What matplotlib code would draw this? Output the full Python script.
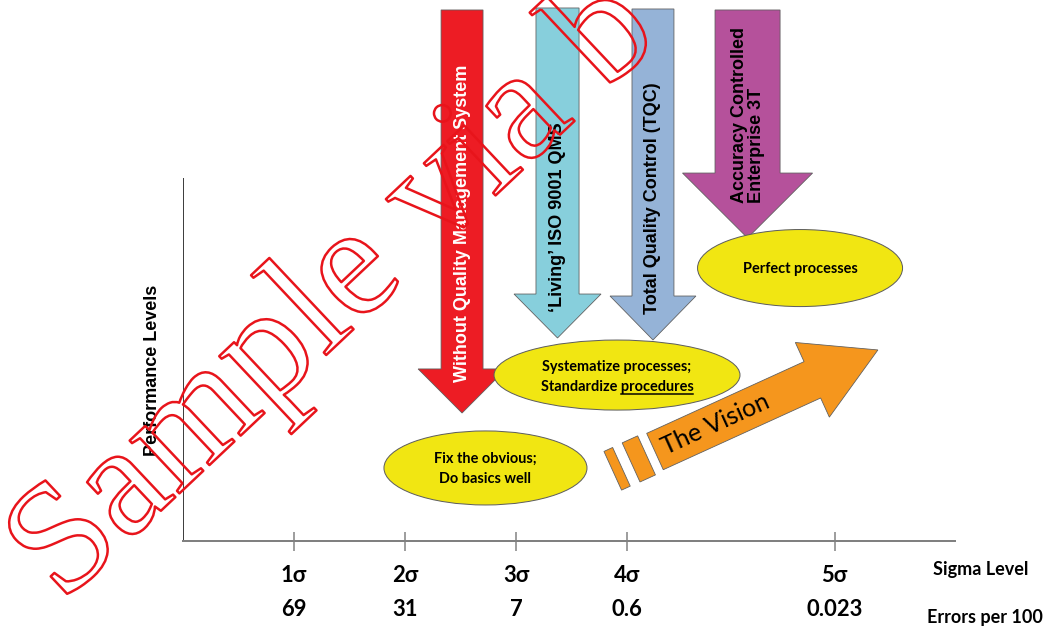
import numpy as np
import matplotlib
matplotlib.use("Agg")
import matplotlib.pyplot as plt
import matplotlib.patheffects as pe
from matplotlib.patches import Polygon, Ellipse

# --- chart content -------------------------------------------------------
sigma_labels = ["1σ", "2σ", "3σ", "4σ", "5σ"]
errors_per_100 = ["69", "31", "7", "0.6", "0.023"]
sigma_pos = [1, 2, 3, 4, 5.87]          # 5σ sits further out on the axis

stage_names = ["Without Quality Management System",
               "‘Living’ ISO 9001 QMS",
               "Total Quality Control (TQC)",
               "Accuracy Controlled\nEnterprise 3T"]
stage_colors = ["#ED1C24", "#87CFDC", "#95B3D7", "#B5519B"]
stage_text_colors = ["white", "black", "black", "black"]

outcome_lines = [["Fix the obvious;", "Do basics well"],
                 ["Systematize processes;", "Standardize procedures"],
                 ["Perfect processes"]]
vision_label = "The Vision"

# --- layout (axis units: 1 unit = one sigma step) -----------------------
# x centre, shaft half width, head half width, top, head start, tip
stage_geom = [(2.514, 0.189, 0.396, 4.784, 1.550, 1.153),
              (3.374, 0.194, 0.392, 4.802, 2.225, 1.829),
              (4.234, 0.189, 0.387, 4.793, 2.207, 1.811),
              (5.086, 0.293, 0.586, 4.784, 3.315, 2.730)]
stage_text_y = [2.865, 2.919, 3.090, 3.045]

# centre x, centre y, width, height, first baseline y
ellipse_geom = [(2.725, 0.658, 1.829, 0.667, 0.703),
                (3.910, 1.495, 2.216, 0.631, 1.532),
                (5.559, 2.459, 1.847, 0.694, 2.415)]
line_step = 0.18

YELLOW = "#F1E612"
ORANGE = "#F5961D"
EDGE = "#5E5E5E"
CAL = ["Lato", "DejaVu Sans"]
ARIAL = ["Liberation Sans", "DejaVu Sans"]

fig = plt.figure(figsize=(1048 / 72, 627 / 72), dpi=72)
ax = fig.add_axes([183 / 1048, 86 / 627, 772 / 1048, 363 / 627])
ax.set_xlim(0, 772 / 111)
ax.set_ylim(0, 363 / 111)

for s in ["top", "right"]:
    ax.spines[s].set_visible(False)
ax.spines["bottom"].set_color("#808080")
ax.spines["bottom"].set_linewidth(2)
ax.spines["left"].set_color("#404040")
ax.spines["left"].set_linewidth(1)
ax.set_yticks([])
ax.set_xticks(sigma_pos)
ax.set_xticklabels(sigma_labels, fontfamily=CAL, fontweight="bold", fontsize=22)
ax.tick_params(axis="x", direction="inout", length=19, width=1.5,
               color="#808080", pad=15)
xt = ax.get_xaxis_transform()
for x, e in zip(sigma_pos, errors_per_100):
    ax.text(x, -69 / 363, e, transform=xt, ha="center", va="center",
            fontfamily=CAL, fontweight="bold", fontsize=22)
ax.text(7.19, -29 / 363, "Sigma Level", transform=xt, ha="center", va="center",
        fontfamily=CAL, fontweight="bold", fontsize=18, clip_on=False)
ax.text(7.225, -76 / 363, "Errors per 100", transform=xt, ha="center",
        va="center", fontfamily=CAL, fontweight="bold", fontsize=18, clip_on=False)
ax.set_ylabel("Performance Levels", fontfamily=ARIAL, fontweight="bold",
              fontsize=18)
ax.yaxis.set_label_coords(-0.028, 0.47)

# down arrows for the quality approaches
for name, col, tcol, g, ty in zip(stage_names, stage_colors, stage_text_colors,
                                  stage_geom, stage_text_y):
    cx, hw, HW, top, head, tip = g
    pts = [(cx - hw, top), (cx + hw, top), (cx + hw, head), (cx + HW, head),
           (cx, tip), (cx - HW, head), (cx - hw, head)]
    ax.add_patch(Polygon(pts, closed=True, facecolor=col, edgecolor=EDGE,
                         lw=0.8, clip_on=False, zorder=2))
    multi = "\n" in name
    ax.text(cx, ty, name, rotation=90, ha="center",
            va="bottom" if multi else "center", multialignment="left",
            color=tcol, fontfamily=ARIAL, fontweight="bold", fontsize=18,
            linespacing=1.0, zorder=5, clip_on=False)

# outcome ellipses
fig.canvas.draw()
renderer = fig.canvas.get_renderer()
for lines, g in zip(outcome_lines, ellipse_geom):
    cx, cy, w, h, y0 = g
    ax.add_patch(Ellipse((cx, cy), w, h, facecolor=YELLOW, edgecolor=EDGE,
                         lw=1, clip_on=False, zorder=3))
    if len(lines) == 1:
        y0 = cy - 0.045
    for i, ln in enumerate(lines):
        t = ax.text(cx, y0 - i * line_step, ln, ha="center", va="baseline",
                    fontfamily=CAL, fontweight="bold", fontsize=14.5, zorder=6)
        if ln.endswith("procedures"):
            full = t.get_window_extent(renderer)
            tmp = ax.text(0, 0, "procedures", fontfamily=CAL, fontweight="bold",
                          fontsize=14.5)
            w2 = tmp.get_window_extent(renderer).width
            tmp.remove()
            by = ax.transData.transform((cx, y0 - i * line_step))[1] - 3
            inv = ax.transData.inverted()
            p0 = inv.transform((full.x1 - w2, by))
            p1 = inv.transform((full.x1, by))
            ax.plot([p0[0], p1[0]], [p0[1], p1[1]], color="black", lw=1.5,
                    zorder=6, clip_on=False)

# "The Vision" arrow, built along its own axis then rotated
ang = np.radians(24.5)
base = np.array([4.252, 0.806])
L, hl, sw, hw = 2.207, 0.649, 0.360, 0.739
rot = np.array([[np.cos(ang), -np.sin(ang)], [np.sin(ang), np.cos(ang)]])


def place(pts):
    return np.asarray(pts) @ rot.T + base


arrow = [(0, -sw / 2), (L - hl, -sw / 2), (L - hl, -hw / 2), (L, 0),
         (L - hl, hw / 2), (L - hl, sw / 2), (0, sw / 2)]
ax.add_patch(Polygon(place(arrow), closed=True, facecolor=ORANGE,
                     edgecolor=EDGE, lw=0.8, clip_on=False, zorder=2))
for c, t, l in [(-0.160, 0.153, 0.387), (-0.375, 0.086, 0.383)]:
    bar = [(c - t / 2, -l / 2), (c + t / 2, -l / 2), (c + t / 2, l / 2),
           (c - t / 2, l / 2)]
    ax.add_patch(Polygon(place(bar), closed=True, facecolor=ORANGE,
                         edgecolor=EDGE, lw=0.8, clip_on=False, zorder=2))
tx, ty = place([(0.595, 0.0)])[0]
ax.text(tx, ty, vision_label, rotation=24.5, rotation_mode="anchor",
        ha="center", va="center", fontfamily=CAL, fontsize=25, zorder=6)

# outlined watermark
fig.text(62 / 1048, 1 - 604 / 627, "Sample via b", rotation=43.3,
         rotation_mode="anchor", ha="left", va="baseline",
         fontfamily=["Liberation Serif", "DejaVu Serif"], fontsize=158,
         color="none",
         path_effects=[pe.withStroke(linewidth=2.5, foreground="#E8141B")])

fig.savefig("out.png", dpi=72)
